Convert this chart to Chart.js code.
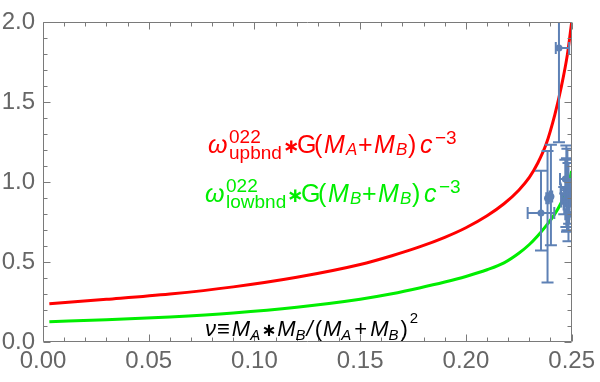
<!DOCTYPE html>
<html>
<head>
<meta charset="utf-8">
<script src="https://cdn.jsdelivr.net/npm/chart.js@4/dist/chart.umd.min.js"></script>
<style>
html,body{margin:0;padding:0;background:#fff;}
#wrap{width:600px;height:382px;position:relative;}
</style>
</head>
<body>
<div id="wrap"><canvas id="c" width="600" height="382"></canvas></div>
<script>
// ---- data ----
const curveNu    = [0.003, 0.03, 0.06, 0.09, 0.12, 0.15, 0.165, 0.178, 0.19, 0.20, 0.21, 0.218, 0.225, 0.230, 0.234, 0.238, 0.242, 0.245, 0.248, 0.25];
const upperBound = [0.240, 0.267, 0.300, 0.345, 0.405, 0.485, 0.540, 0.595, 0.655, 0.715, 0.790, 0.865, 0.950, 1.030, 1.120, 1.240, 1.420, 1.590, 1.800, 2.000];
const lowerBound = [0.127, 0.139, 0.157, 0.182, 0.218, 0.268, 0.302, 0.338, 0.375, 0.410, 0.452, 0.495, 0.555, 0.610, 0.665, 0.728, 0.800, 0.870, 0.960, 1.070];

const obsNu    = [0.2440, 0.2355, 0.2386, 0.2402, 0.2470, 0.2475, 0.2480, 0.2485, 0.2478, 0.2488, 0.2492, 0.2465];
const obsVal   = [1.84,   0.807,  0.90,   0.91,   1.02,   0.95,   0.90,   0.86,   0.96,   0.80,   0.93,   0.88];
const obsLo    = [1.25,   0.573,  0.373,  0.605,  0.93,   0.72,   0.70,   0.63,   0.69,   0.74,   0.85,   0.80];
const obsHi    = [2.20,   1.072,  1.195,  1.235,  1.14,   1.23,   1.21,   1.12,   1.15,   0.92,   1.02,   0.97];
const obsNuLo  = [0.2425, 0.2292, 0.2380, 0.2396, 0.2445, 0.2450, 0.2455, 0.2462, 0.2448, 0.2470, 0.2480, 0.2450];
const obsNuHi  = [0.2488, 0.2418, 0.2392, 0.2408, 0.2500, 0.2500, 0.2500, 0.2500, 0.2500, 0.2500, 0.2500, 0.2480];

const xTickValues = [0, 0.05, 0.10, 0.15, 0.20, 0.25];
const yTickValues = [0, 0.5, 1.0, 1.5, 2.0];
const xTickLabels = ['0.00', '0.05', '0.10', '0.15', '0.20', '0.25'];
const yTickLabels = ['0.0', '0.5', '1.0', '1.5', '2.0'];

// ---- styling ----
const RED = '#ff0000';
const GREEN = '#00ee00';
const BLUE = '#5e81b5';
const FRAME = '#7a7a7a';
const LABEL = '#666666';
const FAM = '"Liberation Sans", Arial, sans-serif';

function pts(xs, ys){ return xs.map((x,i)=>({x:x, y:ys[i]})); }

// rich text: segments placed either at absolute offset (ox) or flowing with gaps
function drawRich(ctx, x, y, segs, color){
  ctx.save();
  ctx.fillStyle = color;
  ctx.textBaseline = 'alphabetic';
  ctx.textAlign = 'left';
  let cx = x;
  for (const s of segs){
    if (s.ox !== undefined) cx = x + s.ox;
    cx += (s.pre || 0);
    ctx.font = s.f;
    ctx.fillText(s.t, cx, y + (s.dy||0));
    let w = ctx.measureText(s.t).width;
    if (s.sub){
      ctx.font = s.sub.f;
      ctx.fillText(s.sub.t, cx, y + (s.sub.dy||0));
      w = Math.max(w, ctx.measureText(s.sub.t).width);
    }
    cx += w + (s.post||0);
  }
  ctx.restore();
}

function colourLabel(S, s, mA, mB, sub, k){
  return [
    {t:'ω', f:`italic ${S}px ${FAM}`, ox:0},
    {t:'022', f:`${s}px ${FAM}`, dy:-10, ox:21, sub:{t:sub, f:`${s}px ${FAM}`, dy:6}},
    {t:'∗', f:`bold 20px "DejaVu Sans"`, dy:0, ox:75+k},
    {t:'G', f:`${S}px ${FAM}`, ox:89+k},
    {t:'(', f:`${S}px ${FAM}`, ox:106+k},
    {t:'M', f:`italic ${S}px ${FAM}`, ox:116+k},
    {t:mA, f:`italic 17px ${FAM}`, dy:2, ox:138+k},
    {t:'+', f:`${S}px ${FAM}`, ox:150+k},
    {t:'M', f:`italic ${S}px ${FAM}`, ox:166+k},
    {t:mB, f:`italic 17px ${FAM}`, dy:2, ox:188+k},
    {t:')', f:`${S}px ${FAM}`, ox:200+k},
    {t:'c', f:`italic ${S}px ${FAM}`, ox:212+k},
    {t:'−3', f:`${s}px ${FAM}`, dy:-9, ox:227+k}
  ];
}

const annotations = {
  id: 'annotations',
  afterDraw(chart){
    const ctx = chart.ctx;
    drawRich(ctx, 208, 153, colourLabel(25, 19, 'A', 'B', 'upbnd', 0), RED);
    drawRich(ctx, 205, 202, colourLabel(25, 19, 'B', 'B', 'lowbnd', 7), GREEN);
    const S = 22, s = 15;
    drawRich(ctx, 205, 336, [
      {t:'ν', f:`italic ${S}px ${FAM}`, post:1},
      {t:'≡', f:`${S}px ${FAM}`, post:2},
      {t:'M', f:`italic ${S}px ${FAM}`},
      {t:'A', f:`italic ${s}px ${FAM}`, dy:4, post:1},
      {t:'∗', f:`bold 18px "DejaVu Sans"`, dy:0, post:1},
      {t:'M', f:`italic ${S}px ${FAM}`},
      {t:'B', f:`italic ${s}px ${FAM}`, dy:4, post:1},
      {t:'/', f:`italic ${S}px ${FAM}`, post:2},
      {t:'(', f:`${S}px ${FAM}`, post:1},
      {t:'M', f:`italic ${S}px ${FAM}`},
      {t:'A', f:`italic ${s}px ${FAM}`, dy:4, post:3},
      {t:'+', f:`${S}px ${FAM}`, post:3},
      {t:'M', f:`italic ${S}px ${FAM}`},
      {t:'B', f:`italic ${s}px ${FAM}`, dy:4, post:2},
      {t:')', f:`${S}px ${FAM}`, post:2},
      {t:'2', f:`${s}px ${FAM}`, dy:-13}
    ], '#000000');
  }
};

const errorBars = {
  id: 'errorBars',
  afterDatasetsDraw(chart){
    const ctx = chart.ctx, xs = chart.scales.x, ys = chart.scales.y, a = chart.chartArea;
    ctx.save();
    ctx.beginPath();
    ctx.rect(a.left, a.top, a.right - a.left, a.bottom - a.top);
    ctx.clip();
    ctx.strokeStyle = BLUE;
    ctx.lineWidth = 2;
    const cap = 6;
    for (let i = 0; i < obsNu.length; i++){
      const px = xs.getPixelForValue(obsNu[i]);
      const py = ys.getPixelForValue(obsVal[i]);
      const yl = ys.getPixelForValue(obsLo[i]);
      const yh = ys.getPixelForValue(obsHi[i]);
      const xl = xs.getPixelForValue(obsNuLo[i]);
      const xh = xs.getPixelForValue(obsNuHi[i]);
      ctx.beginPath();
      ctx.moveTo(px, yl); ctx.lineTo(px, yh);
      ctx.moveTo(px - cap, yl); ctx.lineTo(px + cap, yl);
      ctx.moveTo(px - cap, yh); ctx.lineTo(px + cap, yh);
      ctx.moveTo(xl, py); ctx.lineTo(xh, py);
      ctx.moveTo(xl, py - cap); ctx.lineTo(xl, py + cap);
      ctx.moveTo(xh, py - cap); ctx.lineTo(xh, py + cap);
      ctx.stroke();
    }
    ctx.restore();
  }
};

const frame = {
  id: 'frame',
  afterDraw(chart){
    const ctx = chart.ctx, xs = chart.scales.x, ys = chart.scales.y, a = chart.chartArea;
    ctx.save();
    ctx.strokeStyle = FRAME;
    ctx.lineWidth = 1;
    const L = Math.round(a.left) + 0.5, R = Math.round(a.right) - 0.5;
    const T = Math.round(a.top) + 0.5, B = Math.round(a.bottom) - 0.5;
    ctx.beginPath();
    ctx.rect(L, T, R - L, B - T);
    for (let k = 0; k <= 25; k++){
      const p = Math.round(xs.getPixelForValue(k / 100)) + 0.5;
      const len = (k % 5 === 0) ? 7 : 4;
      ctx.moveTo(p, B); ctx.lineTo(p, B - len);
      ctx.moveTo(p, T); ctx.lineTo(p, T + len);
    }
    for (let k = 0; k <= 20; k++){
      const p = Math.round(ys.getPixelForValue(k / 10)) + 0.5;
      const len = (k % 5 === 0) ? 7 : 4;
      ctx.moveTo(L, p); ctx.lineTo(L + len, p);
      ctx.moveTo(R, p); ctx.lineTo(R - len, p);
    }
    ctx.stroke();
    ctx.restore();
  }
};

new Chart(document.getElementById('c'), {
  type: 'scatter',
  data: {
    datasets: [
      { data: pts(curveNu, upperBound), showLine: true, borderColor: RED, borderWidth: 3, pointRadius: 0, cubicInterpolationMode: 'monotone', order: 2 },
      { data: pts(curveNu, lowerBound), showLine: true, borderColor: GREEN, borderWidth: 3, pointRadius: 0, cubicInterpolationMode: 'monotone', order: 3 },
      { data: pts(obsNu, obsVal), showLine: false, pointRadius: 3.5, pointBackgroundColor: BLUE, pointBorderColor: BLUE, pointBorderWidth: 0, order: 1 }
    ]
  },
  options: {
    responsive: false,
    animation: false,
    events: [],
    layout: { padding: { top: 15, right: 27, left: 0, bottom: 0 } },
    plugins: { legend: { display: false }, tooltip: { enabled: false } },
    scales: {
      x: {
        type: 'linear', min: 0, max: 0.25,
        afterBuildTicks: s => { s.ticks = xTickValues.map(v => ({value: v})); },
        afterFit: s => { s.height = 40; },
        ticks: { callback: (v, i) => xTickLabels[i], font: { family: FAM, size: 24 }, color: LABEL, padding: 5, maxRotation: 0 },
        grid: { display: false, drawTicks: false },
        border: { display: false }
      },
      y: {
        type: 'linear', min: 0, max: 2,
        afterBuildTicks: s => { s.ticks = yTickValues.map(v => ({value: v})); },
        afterFit: s => { s.width = 43; },
        ticks: { callback: (v, i) => yTickLabels[i], font: { family: FAM, size: 24 }, color: LABEL, padding: 8 },
        grid: { display: false, drawTicks: false },
        border: { display: false }
      }
    }
  },
  plugins: [errorBars, frame, annotations]
});
</script>
</body>
</html>
